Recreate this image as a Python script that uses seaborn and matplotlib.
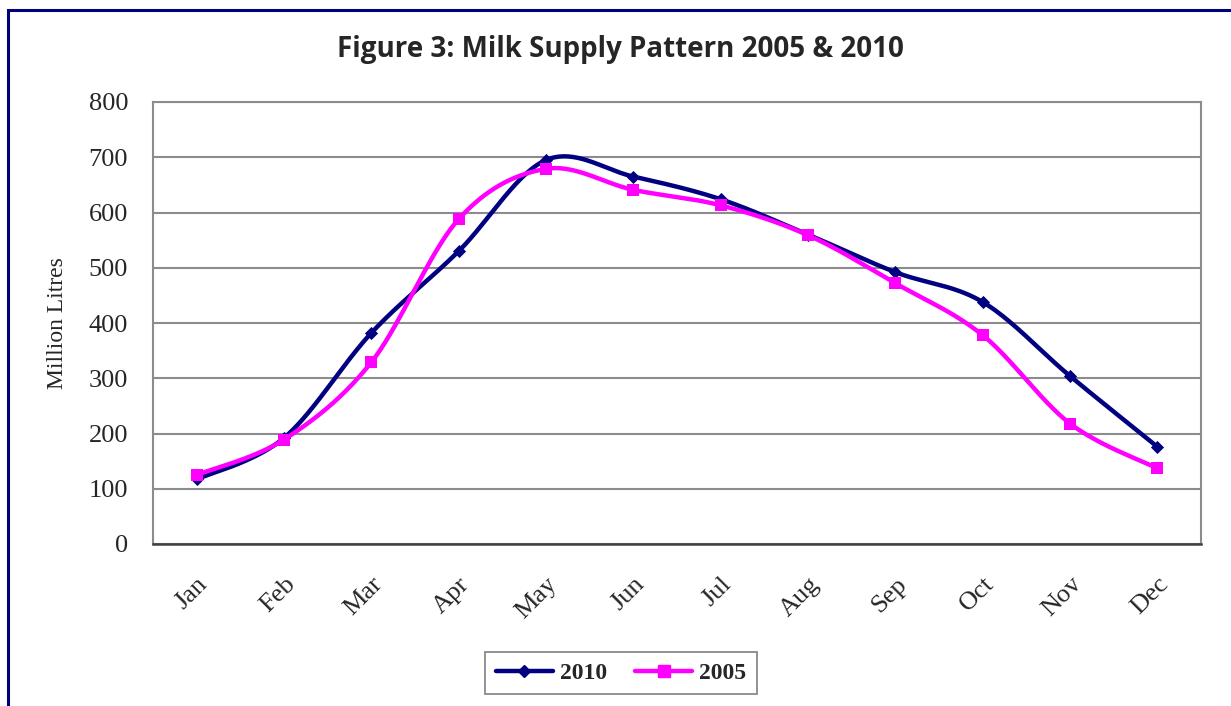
import numpy as np
import pandas as pd
import matplotlib
matplotlib.use('Agg')
import matplotlib.pyplot as plt
import matplotlib.transforms as mtransforms
from matplotlib.lines import Line2D
from matplotlib.patches import Rectangle
import seaborn as sns

# Données (millions de litres)
months = ['Jan', 'Feb', 'Mar', 'Apr', 'May', 'Jun', 'Jul', 'Aug', 'Sep', 'Oct', 'Nov', 'Dec']
supply_2010 = [117, 192, 382, 530, 695, 665, 624, 560, 492, 438, 304, 176]
supply_2005 = [125, 189, 329, 588, 679, 641, 613, 559, 472, 378, 218, 137]
y_ticks = [0, 100, 200, 300, 400, 500, 600, 700, 800]

NAVY = '#000080'
MAGENTA = '#FF00FF'


def smooth_curve(ys, n=40):
    # lissage type Excel (Bezier / Catmull-Rom) pour le tracé seulement
    p = np.column_stack([np.arange(len(ys)), np.asarray(ys, float)])
    out = []
    for i in range(len(p) - 1):
        p0 = p[i - 1] if i > 0 else p[i]
        p1, p2 = p[i], p[i + 1]
        p3 = p[i + 2] if i + 2 < len(p) else p[i + 1]
        c1 = p1 + (p2 - p0) / 6
        c2 = p2 - (p3 - p1) / 6
        t = np.linspace(0, 1, n)[:, None]
        seg = ((1 - t) ** 3) * p1 + 3 * ((1 - t) ** 2) * t * c1 + 3 * (1 - t) * t ** 2 * c2 + t ** 3 * p2
        out.append(seg if i == 0 else seg[1:])
    return np.vstack(out)


sns.set_style('white')
plt.rcParams['font.family'] = ['Liberation Serif', 'DejaVu Serif']

fig = plt.figure(figsize=(12.31, 7.06), dpi=100)
ax = fig.add_axes([153 / 1231, 1 - 544 / 706, (1201 - 153) / 1231, (544 - 102) / 706])

pts = pd.DataFrame({
    'idx': list(range(12)) * 2,
    'value': supply_2010 + supply_2005,
    'Year': ['2010'] * 12 + ['2005'] * 12,
})

curves = []
for year, vals in [('2010', supply_2010), ('2005', supply_2005)]:
    c = smooth_curve(vals)
    curves.append(pd.DataFrame({'x': c[:, 0], 'y': c[:, 1], 'Year': year}))
curves = pd.concat(curves, ignore_index=True)

palette = {'2010': NAVY, '2005': MAGENTA}
sns.lineplot(data=curves, x='x', y='y', hue='Year', palette=palette, sort=False,
             estimator=None, units='Year', linewidth=3.2, legend=False, ax=ax,
             hue_order=['2010', '2005'])
sns.scatterplot(data=pts[pts.Year == '2010'], x='idx', y='value', color=NAVY, marker='D',
                s=45, edgecolor=NAVY, linewidth=0, legend=False, ax=ax, zorder=4)
sns.scatterplot(data=pts[pts.Year == '2005'], x='idx', y='value', color=MAGENTA, marker='s',
                s=80, edgecolor=MAGENTA, linewidth=0, legend=False, ax=ax, zorder=5)

ax.set_xlim(-0.5, 11.5)
ax.set_ylim(0, 800)
ax.set_yticks(y_ticks)
ax.set_yticklabels([str(v) for v in y_ticks], fontsize=19)
ax.set_xticks(range(12))
ax.set_xticklabels(months, fontsize=19, rotation=45, ha='right', va='top', rotation_mode='anchor')
# léger décalage horizontal des mois
shift = mtransforms.ScaledTranslation(8 / 100, 0, fig.dpi_scale_trans)
for lbl in ax.get_xticklabels():
    lbl.set_transform(lbl.get_transform() + shift)
ax.tick_params(axis='both', length=0)
ax.tick_params(axis='y', pad=18)
ax.tick_params(axis='x', pad=21)
ax.set_xlabel('')
ax.set_ylabel('Million Litres', fontsize=17, labelpad=15)

ax.grid(True, axis='y', color='#8c8c8c', linewidth=1.5)
ax.set_axisbelow(True)
for side in ['left', 'right', 'top']:
    ax.spines[side].set_color('#8c8c8c')
    ax.spines[side].set_linewidth(1.5)
ax.spines['bottom'].set_color('#404040')
ax.spines['bottom'].set_linewidth(1.8)

fig.text(620 / 1231, 1 - 49 / 706, 'Figure 3: Milk Supply Pattern 2005 & 2010',
         ha='center', va='center', fontsize=20, fontweight='bold', family=['Open Sans', 'DejaVu Sans'])

handles = [
    Line2D([], [], color=NAVY, linewidth=3.2, marker='D', markersize=6),
    Line2D([], [], color=MAGENTA, linewidth=3.2, marker='s', markersize=8),
]
leg = fig.legend(handles, ['2010', '2005'], loc='center', bbox_to_anchor=(621 / 1231, 1 - 673 / 706),
                 ncol=2, frameon=True, fancybox=False, framealpha=1, handlelength=2.4,
                 columnspacing=1.2, handletextpad=0.3, borderpad=0.45,
                 prop={'family': 'Liberation Serif', 'weight': 'bold', 'size': 17})
leg.get_frame().set_edgecolor('#808080')
leg.get_frame().set_linewidth(1.2)

fig.patches.append(Rectangle((8 / 1231, -0.1), 1.2, 1 - 10 / 706 + 0.1, transform=fig.transFigure,
                             fill=False, edgecolor='#00007a', linewidth=2.2, clip_on=False))

fig.savefig('out.png', dpi=100)
